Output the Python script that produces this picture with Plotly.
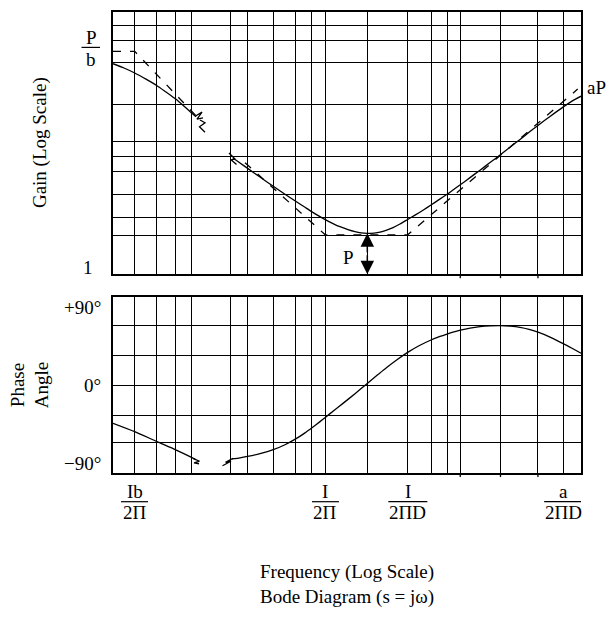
import math
import plotly.graph_objects as go

# ---------------- data ----------------
# horizontal position is log frequency, expressed 0..100 across the plot width
freq_grid = [4.6, 9.4, 13.4, 16.7, 25.2, 28.7, 34.3, 39.0, 42.5, 45.4,
             54.3, 63.0, 68.0, 71.4, 74.2, 82.8, 90.8, 96.3]
freq_long_lines = [74.2, 82.8, 90.8]   # grid lines that poke below the frames
freq_tick_pos = [4.6, 45.4, 63.0, 96.3]
freq_tick_num = ["Ib", "I", "I", "a"]
freq_tick_den = ["2Π", "2Π", "2ΠD", "2ΠD"]

# gain grid (log scale, bottom edge = 1)
gain_grid = [8.91, 7.76, 6.41, 4.43, 3.20, 2.80, 2.47, 2.02, 1.64, 1.41]
gain_top = 10.0

# actual gain, low-frequency piece (before the axis break)
gain_lo_f = [0.0, 2.35, 4.64, 7.05, 9.40, 11.32, 13.40, 14.96, 16.67, 17.74]
gain_lo = [6.350, 6.115, 5.854, 5.546, 5.236, 4.951, 4.653, 4.407, 4.139, 3.986]
# actual gain, remaining piece
gain_hi_f = [25.64, 27.14, 28.70, 31.41, 34.25, 36.75, 39.04, 41.03, 42.52,
             44.23, 45.36, 47.01, 48.50, 50.21, 51.71, 52.99, 54.34, 55.77,
             57.05, 58.48, 59.83, 61.32, 62.97, 64.53, 66.24, 67.95, 69.66,
             71.37, 72.65, 74.21, 76.28, 78.42, 80.56, 82.76, 84.83, 86.97,
             88.89, 90.81, 93.38, 96.30, 98.08, 100.0]
gain_hi = [2.774, 2.655, 2.538, 2.346, 2.163, 2.017, 1.897, 1.799, 1.729,
           1.657, 1.614, 1.560, 1.517, 1.478, 1.452, 1.437, 1.431, 1.435,
           1.447, 1.473, 1.506, 1.554, 1.617, 1.679, 1.754, 1.835, 1.924,
           2.017, 2.094, 2.193, 2.335, 2.493, 2.665, 2.855, 3.050, 3.266,
           3.475, 3.694, 3.997, 4.357, 4.573, 4.775]

# straight-line asymptotes
asym_lo_f = [0.0, 4.64, 18.59]
asym_lo = [7.075, 7.075, 3.873]
asym_hi_f = [28.21, 45.36, 62.97, 99.29]
asym_hi = [2.662, 1.413, 1.413, 5.08]

# phase angle (degrees)
phase_grid = [69.0, 34.5, 0.0, -34.5, -66.0]
phase_lo_f = [0.0, 4.64, 9.40, 13.40, 16.67, 17.74]
phase_lo = [-44.0, -53.7, -65.2, -74.7, -83.1, -86.2]
phase_hi_f = [25.43, 27.14, 28.70, 31.41, 34.25, 36.75, 39.04, 41.03, 42.52,
              44.23, 45.36, 47.22, 49.21, 51.71, 54.34, 56.62, 58.48, 60.68,
              62.97, 65.38, 67.95, 69.87, 71.37, 72.65, 74.21, 76.28, 78.42,
              80.56, 82.76, 84.83, 86.97, 88.89, 90.81, 93.38, 96.30, 98.08,
              100.0]
phase_hi = [-85.1, -83.9, -82.4, -79.1, -74.5, -68.8, -62.1, -55.1, -49.2,
            -42.1, -37.2, -29.2, -20.7, -9.8, 2.0, 12.3, 20.5, 29.5,
            38.0, 45.6, 52.3, 56.4, 59.2, 61.4, 63.7, 66.1, 67.8,
            68.7, 69.0, 68.3, 66.9, 64.6, 61.3, 55.7, 47.9, 42.8,
            37.1]

# axis-break zigzags
brk_gain_solid_f = [17.63, 19.02, 17.95, 19.23]
brk_gain_solid = [4.01, 4.15, 3.90, 3.95]
brk_gain_dash_f = [18.59, 19.66, 18.48, 19.66]
brk_gain_dash = [3.873, 3.78, 3.65, 3.48]
brk_gain_hi_f = [24.79, 26.07, 25.21, 26.39]
brk_gain_hi = [2.90, 2.75, 2.73, 2.62]
brk_phase_lo_f = [17.20, 18.48, 17.31, 18.38]
brk_phase_lo = [-84.8, -87.9, -89.7, -90.8]
brk_phase_hi_f = [23.40, 25.21, 24.04, 25.64]
brk_phase_hi = [-93.1, -87.9, -89.1, -84.5]

# ---------------- styling ----------------
FONT = "Liberation Serif"
FS = 19
INK = "black"
LW = 1.3
GAIN_DOM = [0.4313, 1.0]
PHASE_DOM = [0.0, 0.3808]
PHASE_RANGE = [-101.5, 101.5]

fig = go.Figure()


def line(xs, ys, xaxis, yaxis, dash=None, smooth=False):
    ln = dict(color=INK, width=LW, dash=dash)
    if smooth:
        ln.update(shape="spline", smoothing=0.6)
    fig.add_trace(go.Scatter(
        x=xs, y=ys, mode="lines", xaxis=xaxis, yaxis=yaxis, line=ln,
        hoverinfo="skip", showlegend=False))


# gain panel
line(gain_lo_f, gain_lo, "x", "y", smooth=True)
line(gain_hi_f, gain_hi, "x", "y", smooth=True)
line(asym_lo_f, asym_lo, "x", "y", dash="8px,9px")
line(asym_hi_f, asym_hi, "x", "y", dash="8px,9px")
line(brk_gain_solid_f, brk_gain_solid, "x", "y")
line(brk_gain_dash_f, brk_gain_dash, "x", "y")
line(brk_gain_hi_f, brk_gain_hi, "x", "y")

# phase panel
line(phase_lo_f, phase_lo, "x2", "y2", smooth=True)
line(phase_hi_f, phase_hi, "x2", "y2", smooth=True)
line(brk_phase_lo_f, brk_phase_lo, "x2", "y2")
line(brk_phase_hi_f, brk_phase_hi, "x2", "y2")

axis_common = dict(
    showline=True, mirror=True, linecolor=INK, linewidth=1.5,
    showgrid=True, gridcolor=INK, gridwidth=LW,
    zeroline=False, ticks="", showticklabels=False, fixedrange=True,
)

fig.update_layout(
    width=607, height=620,
    margin=dict(l=113, r=26, t=10, b=147),
    paper_bgcolor="white", plot_bgcolor="white",
    font=dict(family=FONT, size=FS, color=INK),
    xaxis=dict(domain=[0, 1], range=[0, 100], anchor="y",
               tickmode="array", tickvals=freq_grid, **axis_common),
    yaxis=dict(domain=GAIN_DOM, type="log", range=[0, math.log10(gain_top)],
               anchor="x", tickmode="array", tickvals=gain_grid, **axis_common),
    xaxis2=dict(domain=[0, 1], range=[0, 100], anchor="y2", matches="x",
                tickmode="array", tickvals=freq_grid, **axis_common),
    yaxis2=dict(domain=PHASE_DOM, range=PHASE_RANGE, anchor="x2",
                tickmode="array", tickvals=phase_grid, **axis_common),
)

ann = []
shapes = []


def text(t, **kw):
    d = dict(text=t, showarrow=False, xanchor="center", yanchor="middle",
             font=dict(family=FONT, size=FS, color=INK))
    d.update(kw)
    ann.append(d)


def gain_paper(v):
    return GAIN_DOM[0] + math.log10(v) / math.log10(gain_top) * (GAIN_DOM[1] - GAIN_DOM[0])


# short extensions of a few grid lines below each frame
for pos in freq_long_lines:
    for base in (GAIN_DOM[0], PHASE_DOM[0]):
        shapes.append(dict(type="line", xref="x2", x0=pos, x1=pos, yref="paper",
                           ysizemode="pixel", yanchor=base, y0=0, y1=-4,
                           line=dict(color=INK, width=LW)))

# frequency tick labels as stacked fractions
bar_half = {"2Π": 13.5, "2ΠD": 19.5}
for pos, num, den in zip(freq_tick_pos, freq_tick_num, freq_tick_den):
    text(num, xref="x2", x=pos, yref="paper", y=0, yshift=-18.5)
    text(den, xref="x2", x=pos, yref="paper", y=0, yshift=-39.5)
    hw = bar_half[den]
    shapes.append(dict(type="line", xref="x2", xsizemode="pixel", xanchor=pos,
                       x0=-hw, x1=hw, yref="paper", ysizemode="pixel", yanchor=0,
                       y0=-28.7, y1=-28.7, line=dict(color=INK, width=1.2)))

# gain axis labels: P/b and 1
pb = asym_lo[0]
text("P", xref="paper", x=0, xshift=-22, yref="y", y=math.log10(pb), yshift=14)
text("b", xref="paper", x=0, xshift=-22, yref="y", y=math.log10(pb), yshift=-8)
shapes.append(dict(type="line", xref="paper", xsizemode="pixel", xanchor=0,
                   x0=-31.5, x1=-13, yref="paper", ysizemode="pixel",
                   yanchor=gain_paper(pb), y0=4, y1=4, line=dict(color=INK, width=1.2)))
text("1", xref="paper", x=0, xshift=-18, xanchor="right", yref="y", y=0, yshift=7)

# aP label at the high-frequency end of the asymptote
text("aP", xref="paper", x=1, xshift=4, xanchor="left", yref="y",
     y=math.log10(asym_hi[-1]), yshift=2)

# P: double arrow from the gain minimum down to unity
i_min = gain_hi.index(min(gain_hi))
fx = gain_hi_f[i_min]
g_min = math.log10(gain_hi[i_min])
mid = g_min / 2
for tip in (g_min, 0.0):
    ann.append(dict(x=fx, y=tip, xref="x", yref="y", ax=fx, ay=mid,
                    axref="x", ayref="y", text="", showarrow=True,
                    arrowhead=2, arrowsize=1.8, arrowwidth=1.5, arrowcolor=INK))
text("P", xref="x", x=fx, xshift=-19, yref="y", y=mid, yshift=-4)

# phase axis labels
for v, t in ((90, "+90°"), (0, "0°"), (-90, "−90°")):
    text(t, xref="paper", x=0, xshift=-10, xanchor="right", yref="y2", y=v)

# axis titles
text("Gain (Log Scale)", xref="paper", x=0, xshift=-73, yref="paper",
     y=(GAIN_DOM[0] + GAIN_DOM[1]) / 2, textangle=-90)
text("Phase<br>Angle", xref="paper", x=0, xshift=-83, yref="y2", y=0, textangle=-90)
text("Frequency (Log Scale)", xref="paper", x=0.5, yref="paper", y=0, yshift=-99)
text("Bode Diagram (s = jω)", xref="paper", x=0.5, yref="paper", y=0, yshift=-124)

fig.update_layout(annotations=ann, shapes=shapes)
fig.write_html("out.html")
